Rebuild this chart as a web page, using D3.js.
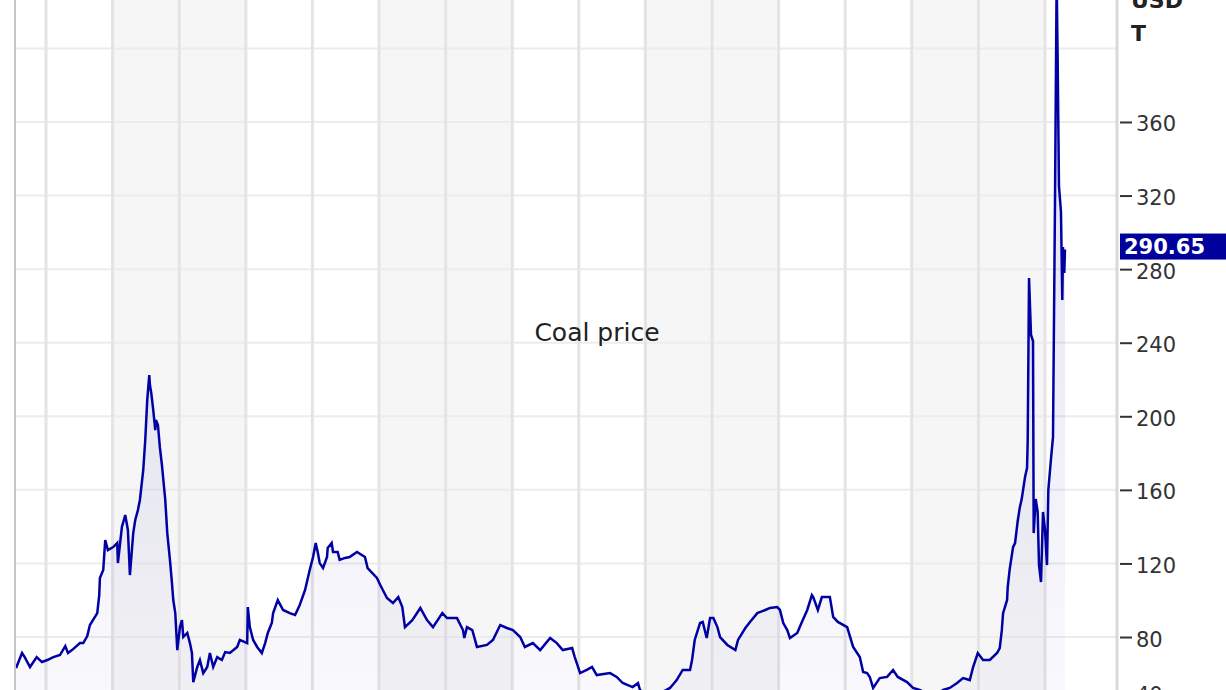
<!DOCTYPE html>
<html>
<head>
<meta charset="utf-8">
<script src="https://cdn.jsdelivr.net/npm/d3@7"></script>
<style>
  html, body { margin: 0; padding: 0; background: #ffffff; overflow: hidden; }
  svg { display: block; }
</style>
</head>
<body>
<svg id="chart" width="1226" height="690"></svg>
<script>
// ---- data (decimal years, USD per tonne) ----
const years = [
  2006.55, 2006.64, 2006.68, 2006.76, 2006.86, 2006.94, 2007.02, 2007.11, 2007.21, 2007.29,
  2007.33, 2007.39, 2007.51, 2007.56, 2007.62, 2007.66, 2007.77, 2007.80, 2007.81, 2007.86,
  2007.89, 2007.93, 2008.01, 2008.07, 2008.08, 2008.14, 2008.19, 2008.23, 2008.26, 2008.29,
  2008.31, 2008.34, 2008.38, 2008.41, 2008.46, 2008.49, 2008.52, 2008.55, 2008.56, 2008.58,
  2008.61, 2008.64, 2008.65, 2008.68, 2008.71, 2008.74, 2008.79, 2008.82, 2008.86, 2008.89,
  2008.91, 2008.94, 2008.97, 2009.01, 2009.04, 2009.06, 2009.12, 2009.16, 2009.19, 2009.21,
  2009.27, 2009.31, 2009.36, 2009.42, 2009.46, 2009.51, 2009.57, 2009.64, 2009.69, 2009.76,
  2009.87, 2009.91, 2010.02, 2010.03, 2010.06, 2010.11, 2010.17, 2010.24, 2010.29, 2010.33,
  2010.39, 2010.41, 2010.48, 2010.56, 2010.66, 2010.74, 2010.81, 2010.89, 2010.96, 2011.01,
  2011.05, 2011.08, 2011.11, 2011.16, 2011.22, 2011.23, 2011.29, 2011.31, 2011.38, 2011.41,
  2011.49, 2011.56, 2011.67, 2011.79, 2011.83, 2011.97, 2012.02, 2012.12, 2012.21, 2012.29,
  2012.35, 2012.39, 2012.50, 2012.62, 2012.72, 2012.81, 2012.95, 2013.02, 2013.17, 2013.26,
  2013.28, 2013.32, 2013.40, 2013.47, 2013.62, 2013.71, 2013.82, 2013.92, 2014.01, 2014.12,
  2014.19, 2014.31, 2014.42, 2014.57, 2014.67, 2014.76, 2014.90, 2014.94, 2015.02, 2015.12,
  2015.20, 2015.27, 2015.47, 2015.57, 2015.66, 2015.81, 2015.89, 2015.92, 2016.05, 2016.20,
  2016.37, 2016.47, 2016.56, 2016.67, 2016.70, 2016.74, 2016.82, 2016.86, 2016.92, 2016.97,
  2017.02, 2017.08, 2017.12, 2017.23, 2017.35, 2017.39, 2017.50, 2017.57, 2017.68, 2017.80,
  2017.87, 2017.98, 2018.02, 2018.07, 2018.13, 2018.17, 2018.28, 2018.35, 2018.43, 2018.50,
  2018.52, 2018.59, 2018.65, 2018.77, 2018.82, 2018.89, 2019.03, 2019.12, 2019.22, 2019.27,
  2019.33, 2019.37, 2019.42, 2019.52, 2019.63, 2019.72, 2019.79, 2019.93, 2020.02, 2020.12,
  2020.25, 2020.35, 2020.47, 2020.57, 2020.68, 2020.77, 2020.87, 2020.92, 2020.99, 2021.07,
  2021.17, 2021.28, 2021.32, 2021.35, 2021.37, 2021.43, 2021.44, 2021.47, 2021.52, 2021.55,
  2021.59, 2021.62, 2021.65, 2021.70, 2021.73, 2021.74, 2021.76, 2021.79, 2021.82, 2021.83,
  2021.86, 2021.89, 2021.91, 2021.94, 2021.97, 2022.00, 2022.03, 2022.05, 2022.09, 2022.12,
  2022.15, 2022.175, 2022.19, 2022.21, 2022.24, 2022.26, 2022.27, 2022.29, 2022.30
];
const prices = [
  63.1, 71.3, 69.1, 63.7, 69.1, 66.4, 67.5, 69.1, 70.2, 75.1,
  71.3, 72.9, 76.7, 76.7, 80.5, 86.5, 93.0, 102.8, 112.1, 116.4,
  132.7, 127.3, 128.9, 131.1, 120.2, 139.8, 146.3, 138.2, 113.7, 127.3,
  136.5, 143.6, 149.0, 154.5, 170.8, 187.1, 208.9, 222.4, 217.0, 212.7,
  203.4, 192.5, 198.0, 195.3, 182.8, 173.5, 154.5, 136.5, 121.9, 109.4,
  100.1, 93.0, 72.9, 85.4, 89.2, 80.0, 82.2, 76.7, 71.3, 55.5,
  63.7, 67.5, 60.4, 63.7, 71.3, 63.7, 69.1, 67.5, 71.8, 71.3,
  74.6, 78.4, 76.7, 96.3, 85.4, 78.4, 74.6, 71.3, 76.7, 82.2,
  87.6, 93.0, 100.1, 94.7, 93.0, 92.0, 97.4, 105.6, 116.4, 123.5,
  131.1, 126.2, 120.2, 117.5, 123.5, 128.4, 131.1, 126.2, 126.2, 121.9,
  123.0, 123.5, 126.2, 123.5, 117.5, 112.1, 108.3, 101.2, 98.5, 101.7,
  96.3, 85.4, 89.2, 95.8, 89.2, 85.4, 93.0, 90.3, 90.3, 83.8,
  79.5, 85.4, 83.8, 74.6, 75.7, 78.4, 86.5, 84.9, 83.8, 80.0,
  74.6, 76.7, 72.9, 79.5, 76.7, 72.9, 74.0, 69.1, 60.4, 62.1,
  63.7, 59.3, 60.4, 58.3, 55.0, 52.8, 55.0, 51.2, 48.5, 49.0,
  52.3, 56.6, 62.1, 62.1, 67.5, 78.4, 87.6, 88.2, 79.5, 90.3,
  90.3, 85.4, 80.0, 75.7, 72.9, 78.4, 84.9, 88.2, 93.0, 94.7,
  95.8, 96.3, 94.7, 87.6, 83.8, 79.5, 82.2, 88.2, 94.7, 102.8,
  101.7, 94.7, 101.7, 101.7, 90.9, 88.2, 85.4, 74.6, 69.1, 61.0,
  60.4, 58.3, 52.3, 57.7, 58.3, 62.1, 58.3, 55.5, 52.3, 51.2,
  49.0, 48.0, 51.2, 52.3, 55.0, 57.7, 56.6, 63.7, 71.3, 67.5,
  67.5, 71.3, 74.0, 83.3, 93.0, 100.1, 107.2, 117.0, 128.9, 131.1,
  143.1, 150.1, 155.0, 167.0, 171.9, 186.6, 275.2, 244.2, 240.9, 136.5,
  155.0, 148.0, 119.1, 109.9, 148.0, 138.2, 119.1, 159.9, 176.8, 188.7,
  316.0, 438.0, 394.0, 325.2, 311.1, 263.2, 292.0, 277.9, 290.65
];
const yTickValues = [40, 80, 120, 160, 200, 240, 280, 320, 360];
const yGridValues = [40, 80, 120, 160, 200, 240, 280, 320, 360, 400];
const gridYears = [2007, 2008, 2009, 2010, 2011, 2012, 2013, 2014, 2015, 2016, 2017, 2018, 2019, 2020, 2021, 2022];
const bandYears = [2006, 2007, 2008, 2009, 2010, 2011, 2012, 2013, 2014, 2015, 2016, 2017, 2018, 2019, 2020, 2021, 2022];
const chartTitle = "Coal price";
const unitLines = ["USD", "T"];

// ---- helpers ----
function decToDate(t) {
  const y = Math.floor(t);
  const a = new Date(y, 0, 1), b = new Date(y + 1, 0, 1);
  return new Date(+a + (t - y) * (b - a));
}
const data = years.map((t, i) => ({ date: decToDate(t), value: prices[i] }));

// ---- layout ----
const W = 1226, H = 690;
const plotLeft = 15, plotRight = 1117, plotTop = 0, plotBottom = 730;

const svg = d3.select("#chart");

const x = d3.scaleTime()
  .domain([new Date(2007, 0, 1), new Date(2022, 0, 1)])
  .range([46, 1045]);
const y = d3.scaleLinear()
  .domain([40, 400])
  .range([710.6, 48.4]);

const defs = svg.append("defs");
defs.append("clipPath").attr("id", "plotClip")
  .append("rect").attr("x", plotLeft).attr("y", plotTop)
  .attr("width", plotRight - plotLeft).attr("height", plotBottom - plotTop);

const grad = defs.append("linearGradient")
  .attr("id", "areaGrad").attr("x1", 0).attr("x2", 0)
  .attr("y1", 0).attr("y2", H)
  .attr("gradientUnits", "userSpaceOnUse");
grad.append("stop").attr("offset", "0%").attr("stop-color", "#1010a0").attr("stop-opacity", 0.13);
grad.append("stop").attr("offset", "100%").attr("stop-color", "#1010a0").attr("stop-opacity", 0.025);

const plot = svg.append("g").attr("clip-path", "url(#plotClip)");

// year bands (alternating every two years)
plot.selectAll("rect.band")
  .data(bandYears.filter(yr => (((yr - 2008) % 4) + 4) % 4 < 2))
  .enter().append("rect")
  .attr("class", "band")
  .attr("x", yr => Math.max(plotLeft, x(new Date(yr, 0, 1))))
  .attr("y", plotTop)
  .attr("width", yr => Math.min(plotRight, x(new Date(yr + 1, 0, 1))) - Math.max(plotLeft, x(new Date(yr, 0, 1))))
  .attr("height", plotBottom - plotTop)
  .attr("fill", "#f6f6f6");

// horizontal grid
plot.selectAll("line.hgrid")
  .data(yGridValues).enter().append("line")
  .attr("x1", plotLeft).attr("x2", plotRight)
  .attr("y1", d => y(d)).attr("y2", d => y(d))
  .attr("stroke", "#ececec").attr("stroke-width", 2);

// vertical grid (years)
plot.selectAll("line.vgrid")
  .data(gridYears).enter().append("line")
  .attr("x1", d => x(new Date(d, 0, 1))).attr("x2", d => x(new Date(d, 0, 1)))
  .attr("y1", plotTop).attr("y2", plotBottom)
  .attr("stroke", "#e4e4e4").attr("stroke-width", 3);

// area + line
const area = d3.area()
  .x(d => x(d.date)).y0(plotBottom).y1(d => y(d.value));
const line = d3.line()
  .x(d => x(d.date)).y(d => y(d.value));

plot.append("path").datum(data)
  .attr("d", area).attr("fill", "url(#areaGrad)");
plot.append("path").datum(data)
  .attr("d", line).attr("fill", "none")
  .attr("stroke", "#0000a4").attr("stroke-width", 2.5)
  .attr("stroke-linejoin", "miter");

// plot borders
svg.append("line")
  .attr("x1", plotLeft).attr("x2", plotLeft).attr("y1", 0).attr("y2", H)
  .attr("stroke", "#c8c8c8").attr("stroke-width", 2);
svg.append("line")
  .attr("x1", plotRight).attr("x2", plotRight).attr("y1", 0).attr("y2", H)
  .attr("stroke", "#d9d9d9").attr("stroke-width", 3);

// right axis
const axisG = svg.append("g")
  .attr("transform", "translate(1120,0)")
  .call(d3.axisRight(y).tickValues(yTickValues).tickSize(12).tickPadding(4).tickFormat(d3.format("d")));
axisG.select(".domain").remove();
axisG.selectAll(".tick line").attr("stroke", "#333").attr("stroke-width", 2);
axisG.selectAll(".tick text")
  .attr("fill", "#333")
  .attr("font-family", "'DejaVu Sans', Verdana, sans-serif")
  .attr("font-size", 21)
  .attr("dy", "0.38em")
  .attr("y", function(d) { return y(d) > 695 ? 694 - y(d) : 1; });

// unit label
svg.selectAll("text.unit")
  .data(unitLines).enter().append("text")
  .attr("x", 1131)
  .attr("y", (d, i) => 8 + i * 33)
  .attr("font-family", "'DejaVu Sans', Verdana, sans-serif")
  .attr("font-weight", "bold")
  .attr("font-size", 22)
  .attr("fill", "#222")
  .text(d => d);

// last value marker
const last = data[data.length - 1];
const ly = y(last.value);
svg.append("rect")
  .attr("x", 1120).attr("y", ly - 16).attr("width", 120).attr("height", 26)
  .attr("fill", "#00009c");
svg.append("text")
  .attr("x", 1124).attr("y", ly - 3).attr("dy", "0.36em")
  .attr("font-family", "'DejaVu Sans', Verdana, sans-serif")
  .attr("font-weight", "bold")
  .attr("font-size", 21)
  .attr("fill", "#ffffff")
  .text(d3.format(".2f")(last.value));

// title
svg.append("text")
  .attr("x", 597).attr("y", 332).attr("dy", "0.36em")
  .attr("text-anchor", "middle")
  .attr("font-family", "'DejaVu Sans', Verdana, sans-serif")
  .attr("font-size", 25)
  .attr("fill", "#222")
  .text(chartTitle);
</script>
</body>
</html>
